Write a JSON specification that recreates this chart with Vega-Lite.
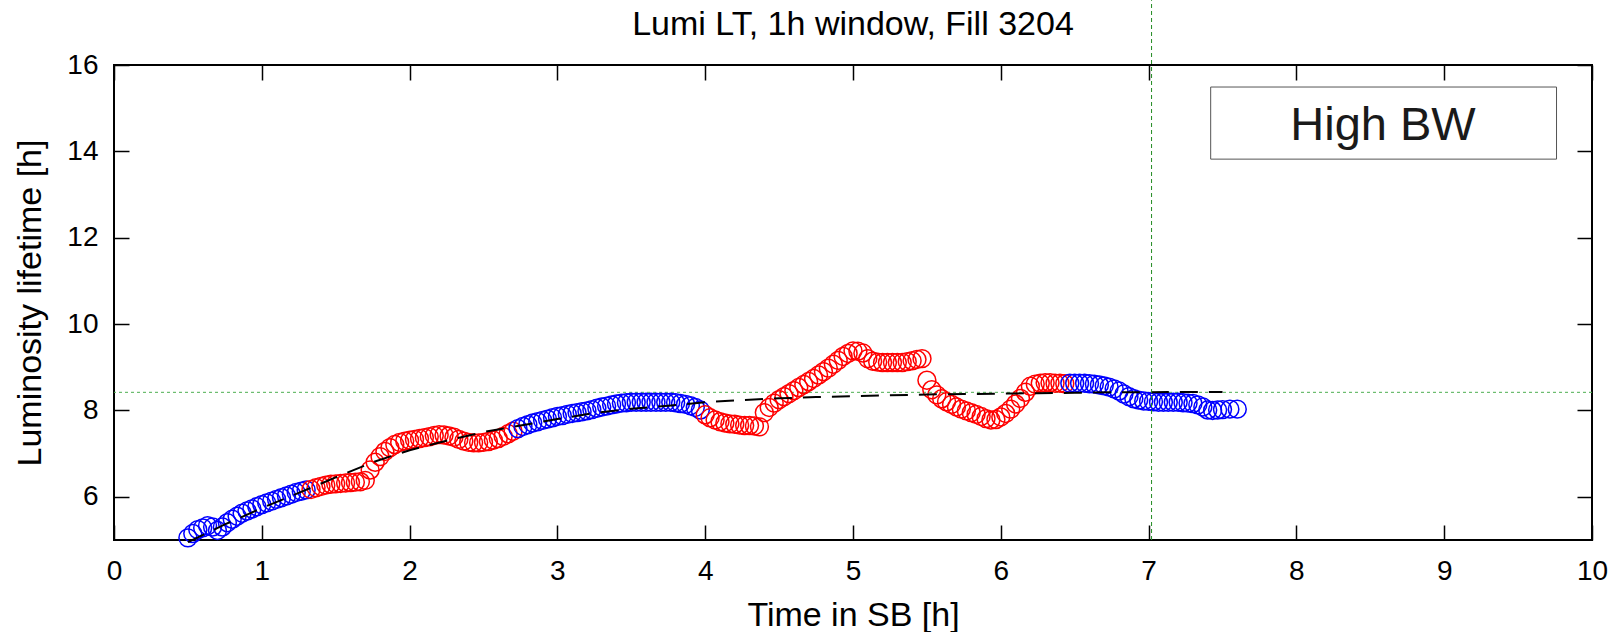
{
  "$schema": "https://vega.github.io/schema/vega-lite/v6.json",
  "width": 1478,
  "height": 475,
  "autosize": {"type": "none"},
  "padding": {"left": 114, "top": 65, "right": 25, "bottom": 92},
  "background": "white",
  "title": {"text": "Lumi LT, 1h window, Fill 3204", "fontSize": 34, "font": "Liberation Sans", "fontWeight": "normal", "color": "black", "offset": 0, "dy": 42, "anchor": "middle"},
  "config": {
    "view": {"stroke": "black", "strokeWidth": 2},
    "axis": {"domain": false, "grid": false, "ticks": true, "tickSize": -15, "tickColor": "black", "tickWidth": 1.5, "labelFont": "Liberation Sans", "labelFontSize": 28, "labelColor": "black", "titleFont": "Liberation Sans", "titleFontSize": 34, "titleFontWeight": "normal", "titleColor": "black", "labelFlush": false, "labelOverlap": false}
  },
  "datasets": {
    "pts": [
      {"t":0.50,"v":5.05,"c":"blue"},{"t":0.533,"v":5.15,"c":"blue"},{"t":0.567,"v":5.24,"c":"blue"},{"t":0.60,"v":5.28,"c":"blue"},{"t":0.633,"v":5.33,"c":"blue"},{"t":0.667,"v":5.30,"c":"blue"},{"t":0.70,"v":5.22,"c":"blue"},{"t":0.733,"v":5.30,"c":"blue"},{"t":0.767,"v":5.40,"c":"blue"},{"t":0.80,"v":5.48,"c":"blue"},{"t":0.833,"v":5.55,"c":"blue"},{"t":0.867,"v":5.62,"c":"blue"},{"t":0.90,"v":5.67,"c":"blue"},{"t":0.933,"v":5.72,"c":"blue"},{"t":0.967,"v":5.77,"c":"blue"},{"t":1.00,"v":5.82,"c":"blue"},{"t":1.033,"v":5.86,"c":"blue"},{"t":1.067,"v":5.90,"c":"blue"},{"t":1.10,"v":5.94,"c":"blue"},{"t":1.133,"v":5.98,"c":"blue"},{"t":1.167,"v":6.02,"c":"blue"},{"t":1.20,"v":6.06,"c":"blue"},{"t":1.233,"v":6.10,"c":"blue"},{"t":1.267,"v":6.13,"c":"blue"},{"t":1.30,"v":6.16,"c":"blue"},
      {"t":1.333,"v":6.17,"c":"red"},{"t":1.367,"v":6.21,"c":"red"},{"t":1.40,"v":6.24,"c":"red"},{"t":1.433,"v":6.27,"c":"red"},{"t":1.467,"v":6.29,"c":"red"},{"t":1.50,"v":6.30,"c":"red"},{"t":1.533,"v":6.31,"c":"red"},{"t":1.567,"v":6.32,"c":"red"},{"t":1.60,"v":6.33,"c":"red"},{"t":1.633,"v":6.34,"c":"red"},{"t":1.667,"v":6.35,"c":"red"},{"t":1.70,"v":6.38,"c":"red"},{"t":1.733,"v":6.62,"c":"red"},{"t":1.767,"v":6.80,"c":"red"},{"t":1.80,"v":6.93,"c":"red"},{"t":1.833,"v":7.05,"c":"red"},{"t":1.867,"v":7.14,"c":"red"},{"t":1.90,"v":7.21,"c":"red"},{"t":1.933,"v":7.26,"c":"red"},{"t":1.967,"v":7.29,"c":"red"},{"t":2.00,"v":7.31,"c":"red"},{"t":2.033,"v":7.33,"c":"red"},{"t":2.067,"v":7.35,"c":"red"},{"t":2.10,"v":7.37,"c":"red"},{"t":2.133,"v":7.39,"c":"red"},{"t":2.167,"v":7.42,"c":"red"},{"t":2.20,"v":7.44,"c":"red"},{"t":2.233,"v":7.43,"c":"red"},{"t":2.267,"v":7.41,"c":"red"},{"t":2.30,"v":7.38,"c":"red"},{"t":2.333,"v":7.33,"c":"red"},{"t":2.367,"v":7.29,"c":"red"},{"t":2.40,"v":7.26,"c":"red"},{"t":2.433,"v":7.25,"c":"red"},{"t":2.467,"v":7.25,"c":"red"},{"t":2.50,"v":7.26,"c":"red"},{"t":2.533,"v":7.28,"c":"red"},{"t":2.567,"v":7.31,"c":"red"},{"t":2.60,"v":7.35,"c":"red"},{"t":2.633,"v":7.40,"c":"red"},{"t":2.667,"v":7.46,"c":"red"},{"t":2.70,"v":7.52,"c":"red"},
      {"t":2.733,"v":7.58,"c":"blue"},{"t":2.767,"v":7.63,"c":"blue"},{"t":2.80,"v":7.67,"c":"blue"},{"t":2.833,"v":7.71,"c":"blue"},{"t":2.867,"v":7.74,"c":"blue"},{"t":2.90,"v":7.77,"c":"blue"},{"t":2.933,"v":7.80,"c":"blue"},{"t":2.967,"v":7.83,"c":"blue"},{"t":3.00,"v":7.86,"c":"blue"},{"t":3.033,"v":7.88,"c":"blue"},{"t":3.067,"v":7.91,"c":"blue"},{"t":3.10,"v":7.93,"c":"blue"},{"t":3.133,"v":7.95,"c":"blue"},{"t":3.167,"v":7.97,"c":"blue"},{"t":3.20,"v":7.99,"c":"blue"},{"t":3.233,"v":8.02,"c":"blue"},{"t":3.267,"v":8.05,"c":"blue"},{"t":3.30,"v":8.08,"c":"blue"},{"t":3.333,"v":8.10,"c":"blue"},{"t":3.367,"v":8.13,"c":"blue"},{"t":3.40,"v":8.15,"c":"blue"},{"t":3.433,"v":8.17,"c":"blue"},{"t":3.467,"v":8.18,"c":"blue"},{"t":3.50,"v":8.19,"c":"blue"},{"t":3.533,"v":8.19,"c":"blue"},{"t":3.567,"v":8.19,"c":"blue"},{"t":3.60,"v":8.19,"c":"blue"},{"t":3.633,"v":8.19,"c":"blue"},{"t":3.667,"v":8.19,"c":"blue"},{"t":3.70,"v":8.19,"c":"blue"},{"t":3.733,"v":8.19,"c":"blue"},{"t":3.767,"v":8.19,"c":"blue"},{"t":3.80,"v":8.18,"c":"blue"},{"t":3.833,"v":8.16,"c":"blue"},{"t":3.867,"v":8.14,"c":"blue"},{"t":3.90,"v":8.11,"c":"blue"},{"t":3.933,"v":8.07,"c":"blue"},{"t":3.967,"v":8.01,"c":"blue"},
      {"t":4.00,"v":7.90,"c":"red"},{"t":4.033,"v":7.83,"c":"red"},{"t":4.067,"v":7.78,"c":"red"},{"t":4.10,"v":7.74,"c":"red"},{"t":4.133,"v":7.71,"c":"red"},{"t":4.167,"v":7.69,"c":"red"},{"t":4.20,"v":7.68,"c":"red"},{"t":4.233,"v":7.66,"c":"red"},{"t":4.267,"v":7.65,"c":"red"},{"t":4.30,"v":7.65,"c":"red"},{"t":4.333,"v":7.64,"c":"red"},{"t":4.367,"v":7.62,"c":"red"},{"t":4.40,"v":7.95,"c":"red"},{"t":4.433,"v":8.07,"c":"red"},{"t":4.467,"v":8.17,"c":"red"},{"t":4.50,"v":8.25,"c":"red"},{"t":4.533,"v":8.32,"c":"red"},{"t":4.567,"v":8.39,"c":"red"},{"t":4.60,"v":8.46,"c":"red"},{"t":4.633,"v":8.53,"c":"red"},{"t":4.667,"v":8.60,"c":"red"},{"t":4.70,"v":8.67,"c":"red"},{"t":4.733,"v":8.74,"c":"red"},{"t":4.767,"v":8.82,"c":"red"},{"t":4.80,"v":8.90,"c":"red"},{"t":4.833,"v":8.98,"c":"red"},{"t":4.867,"v":9.07,"c":"red"},{"t":4.90,"v":9.16,"c":"red"},{"t":4.933,"v":9.25,"c":"red"},{"t":4.967,"v":9.32,"c":"red"},{"t":5.00,"v":9.38,"c":"red"},{"t":5.033,"v":9.37,"c":"red"},{"t":5.067,"v":9.33,"c":"red"},{"t":5.10,"v":9.20,"c":"red"},{"t":5.133,"v":9.14,"c":"red"},{"t":5.167,"v":9.12,"c":"red"},{"t":5.20,"v":9.11,"c":"red"},{"t":5.233,"v":9.11,"c":"red"},{"t":5.267,"v":9.11,"c":"red"},{"t":5.30,"v":9.11,"c":"red"},{"t":5.333,"v":9.11,"c":"red"},{"t":5.367,"v":9.13,"c":"red"},{"t":5.40,"v":9.15,"c":"red"},{"t":5.433,"v":9.18,"c":"red"},{"t":5.467,"v":9.20,"c":"red"},{"t":5.50,"v":8.70,"c":"red"},{"t":5.533,"v":8.48,"c":"red"},{"t":5.567,"v":8.36,"c":"red"},{"t":5.60,"v":8.27,"c":"red"},{"t":5.633,"v":8.20,"c":"red"},{"t":5.667,"v":8.14,"c":"red"},{"t":5.70,"v":8.08,"c":"red"},{"t":5.733,"v":8.03,"c":"red"},{"t":5.767,"v":7.99,"c":"red"},{"t":5.80,"v":7.95,"c":"red"},{"t":5.833,"v":7.91,"c":"red"},{"t":5.867,"v":7.86,"c":"red"},{"t":5.90,"v":7.81,"c":"red"},{"t":5.933,"v":7.78,"c":"red"},{"t":5.967,"v":7.79,"c":"red"},{"t":6.00,"v":7.85,"c":"red"},{"t":6.033,"v":7.93,"c":"red"},{"t":6.067,"v":8.03,"c":"red"},{"t":6.10,"v":8.15,"c":"red"},{"t":6.133,"v":8.28,"c":"red"},{"t":6.167,"v":8.42,"c":"red"},{"t":6.20,"v":8.56,"c":"red"},{"t":6.233,"v":8.61,"c":"red"},{"t":6.267,"v":8.63,"c":"red"},{"t":6.30,"v":8.64,"c":"red"},{"t":6.333,"v":8.64,"c":"red"},{"t":6.367,"v":8.63,"c":"red"},{"t":6.40,"v":8.63,"c":"red"},{"t":6.433,"v":8.62,"c":"red"},
      {"t":6.467,"v":8.63,"c":"blue"},{"t":6.50,"v":8.63,"c":"blue"},{"t":6.533,"v":8.63,"c":"blue"},{"t":6.567,"v":8.63,"c":"blue"},{"t":6.60,"v":8.62,"c":"blue"},{"t":6.633,"v":8.61,"c":"blue"},{"t":6.667,"v":8.59,"c":"blue"},{"t":6.70,"v":8.57,"c":"blue"},{"t":6.733,"v":8.54,"c":"blue"},{"t":6.767,"v":8.50,"c":"blue"},{"t":6.80,"v":8.45,"c":"blue"},{"t":6.833,"v":8.38,"c":"blue"},{"t":6.867,"v":8.32,"c":"blue"},{"t":6.90,"v":8.27,"c":"blue"},{"t":6.933,"v":8.24,"c":"blue"},{"t":6.967,"v":8.22,"c":"blue"},{"t":7.00,"v":8.21,"c":"blue"},{"t":7.033,"v":8.20,"c":"blue"},{"t":7.067,"v":8.19,"c":"blue"},{"t":7.10,"v":8.19,"c":"blue"},{"t":7.133,"v":8.19,"c":"blue"},{"t":7.167,"v":8.19,"c":"blue"},{"t":7.20,"v":8.19,"c":"blue"},{"t":7.233,"v":8.18,"c":"blue"},{"t":7.267,"v":8.17,"c":"blue"},{"t":7.30,"v":8.16,"c":"blue"},{"t":7.333,"v":8.13,"c":"blue"},{"t":7.367,"v":8.08,"c":"blue"},{"t":7.40,"v":8.01,"c":"blue"},{"t":7.433,"v":8.00,"c":"blue"},{"t":7.467,"v":8.01,"c":"blue"},{"t":7.50,"v":8.02,"c":"blue"},{"t":7.55,"v":8.03,"c":"blue"},{"t":7.60,"v":8.03,"c":"blue"}
    ],
    "fit": [
      {"t":0.5,"v":4.95},{"t":0.75,"v":5.36},{"t":1.0,"v":5.74},{"t":1.25,"v":6.09},{"t":1.5,"v":6.45},{"t":1.75,"v":6.8},{"t":2.0,"v":7.08},{"t":2.25,"v":7.3},{"t":2.5,"v":7.5},{"t":2.75,"v":7.65},{"t":3.0,"v":7.8},{"t":3.25,"v":7.94},{"t":3.5,"v":8.04},{"t":3.75,"v":8.11},{"t":4.0,"v":8.19},{"t":4.25,"v":8.24},{"t":4.5,"v":8.28},{"t":4.75,"v":8.31},{"t":5.0,"v":8.33},{"t":5.25,"v":8.35},{"t":5.5,"v":8.37},{"t":5.75,"v":8.38},{"t":6.0,"v":8.39},{"t":6.25,"v":8.4},{"t":6.5,"v":8.41},{"t":6.75,"v":8.42},{"t":7.0,"v":8.42},{"t":7.25,"v":8.43},{"t":7.5,"v":8.43}
    ],
    "one": [{}]
  },
  "layer": [
    {
      "data": {"name": "one"},
      "mark": {"type": "rule", "color": "#4caf50", "strokeDash": [3, 3], "strokeWidth": 1},
      "encoding": {"y": {"datum": 8.42, "type": "quantitative", "axis": null}}
    },
    {
      "data": {"name": "pts"},
      "mark": {"type": "point", "shape": "circle", "filled": false, "size": 320, "strokeWidth": 1.5, "opacity": 1},
      "encoding": {
        "x": {"field": "t", "type": "quantitative", "scale": {"domain": [0, 10], "nice": false, "zero": false}, "axis": {"orient": "bottom", "title": "Time in SB [h]", "values": [0,1,2,3,4,5,6,7,8,9,10], "labelPadding": 32, "titlePadding": 13}},
        "y": {"field": "v", "type": "quantitative", "scale": {"domain": [5, 16], "nice": false, "zero": false}, "axis": {"orient": "left", "title": "Luminosity lifetime [h]", "values": [6,8,10,12,14,16], "labelPadding": 31, "titlePadding": 19}},
        "color": {"field": "c", "type": "nominal", "scale": {"domain": ["blue", "red"], "range": ["#0000ff", "#ff0000"]}, "legend": null}
      }
    },
    {
      "data": {"name": "fit"},
      "mark": {"type": "line", "color": "black", "strokeDash": [18, 11], "strokeWidth": 2},
      "encoding": {
        "x": {"field": "t", "type": "quantitative", "axis": {"orient": "top", "labels": false, "title": null, "values": [0,1,2,3,4,5,6,7,8,9,10]}},
        "y": {"field": "v", "type": "quantitative", "axis": {"orient": "right", "labels": false, "title": null, "values": [6,8,10,12,14,16]}}
      }
    },
    {
      "data": {"name": "one"},
      "mark": {"type": "rule", "color": "#228b22", "strokeDash": [4, 3], "strokeWidth": 1, "clip": false},
      "encoding": {
        "x": {"datum": 7.02, "type": "quantitative", "axis": null},
        "y": {"datum": 5, "type": "quantitative", "axis": null},
        "y2": {"datum": 17.5}
      }
    },
    {
      "data": {"name": "one"},
      "mark": {"type": "rect", "fill": "white", "stroke": "#555555", "strokeWidth": 1},
      "encoding": {
        "x": {"datum": 7.42, "type": "quantitative", "axis": null},
        "x2": {"datum": 9.76},
        "y": {"datum": 13.82, "type": "quantitative", "axis": null},
        "y2": {"datum": 15.49}
      }
    },
    {
      "data": {"name": "one"},
      "mark": {"type": "text", "text": "High BW", "font": "Liberation Sans", "fontSize": 47, "color": "#1a1a1a", "align": "center", "baseline": "alphabetic"},
      "encoding": {
        "x": {"datum": 8.586, "type": "quantitative", "axis": null},
        "y": {"datum": 14.26, "type": "quantitative", "axis": null}
      }
    }
  ],
  "resolve": {"axis": {"x": "independent", "y": "independent"}}
}
